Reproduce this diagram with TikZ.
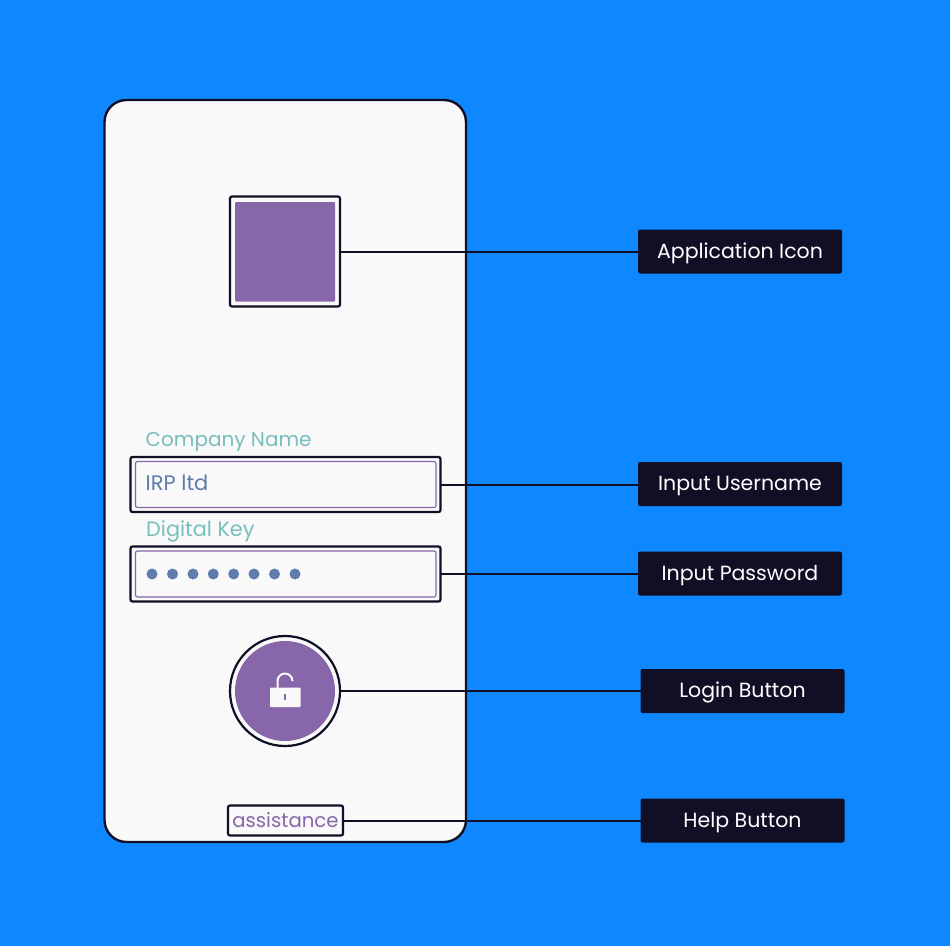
\documentclass[tikz,border=0pt]{standalone}
\usepackage{fontspec}
\setmainfont{Poppins}
\definecolor{bgblue}{HTML}{0F88FF}
\definecolor{ink}{HTML}{110F26}
\definecolor{paper}{HTML}{F9F9F9}
\definecolor{plum}{HTML}{8767A9}
\definecolor{teal2}{HTML}{77BFBD}
\definecolor{steel}{HTML}{5F7CAB}
\tikzset{
  x=1pt,y=-1pt,
  outline/.style={draw=ink,line width=2.2pt,rounded corners=2pt,fill=paper,inner sep=0pt,outer sep=0pt},
  inputbox/.style={draw=plum,line width=1.2pt,rounded corners=2pt,fill=paper},
  tag/.style={fill=ink,rounded corners=2pt,text=white,minimum width=204pt,minimum height=44pt,inner sep=0pt,outer sep=0pt,font=\fontsize{20.5}{22}\selectfont,text height=14pt,text depth=4pt},
  link/.style={draw=ink,line width=2pt},
  fieldlabel/.style={anchor=base west,inner sep=0pt,text=teal2,font=\fontsize{20}{22}\selectfont},
  dot/.style={circle,fill=steel,minimum size=11pt,inner sep=0pt},
}
\begin{document}
\begin{tikzpicture}
\useasboundingbox (0,0) rectangle (950,950);
\fill[bgblue] (0,0) rectangle (950,946);
\fill[white] (0,946) rectangle (950,950);
\draw[draw=ink,line width=2.4pt,fill=paper,rounded corners=22pt] (104.5,100) rectangle (466,842);

% tags
\node[tag] (t1) at (740,251.5) {\raisebox{-1.5pt}{Application Icon}};
\node[tag] (t2) at (740,484) {\raisebox{-1.5pt}{Input Username}};
\node[tag] (t3) at (740,573.5) {\raisebox{-1.5pt}{Input Password}};
\node[tag] (t4) at (742.5,691) {\raisebox{-1.5pt}{Login Button}};
\node[tag] (t5) at (742.5,820.5) {\raisebox{-1.5pt}{Help Button}};

% application icon
\node[outline,minimum size=110pt] (icon) at (285,251.5) {};
\fill[plum,rounded corners=1pt] (235,202) rectangle (335,301.5);

% fields
\node[outline,minimum width=310pt,minimum height=55pt] (user) at (285.5,484.5) {};
\draw[inputbox] (135.5,461.5) rectangle (436,507.5);
\node[outline,minimum width=310pt,minimum height=55pt] (pass) at (285.5,574) {};
\draw[inputbox] (135.5,551) rectangle (436,597);
\node[fieldlabel] (lc) at (145.5,446) {Company Name};
\node[fieldlabel] (ld) at (146,536) {\fontsize{20.8}{22}\selectfont Digital Key};
\node[anchor=base west,inner sep=0pt,text=steel,font=\fontsize{21}{22}\selectfont] (val) at (145.5,490.5) {IRP ltd};
\foreach \i/\px in {1/152,2/172.5,3/193,4/213.3,5/233.7,6/254,7/274.5,8/295}
  \node[dot] (d\i) at (\px,574) {};

% login button
\node[circle,draw=ink,line width=2.2pt,fill=paper,minimum size=110pt,inner sep=0pt,outer sep=0pt] (login) at (285,691) {};
\fill[plum] (285,691) circle (50pt);
\fill[paper,rounded corners=1pt] (270,687.5) rectangle (300.5,707);
\draw[paper,line width=2pt] (277.5,688) -- (277.5,681) arc[start angle=180,end angle=0,radius=7.5pt] -- (292.5,680.5);
\draw[plum,line width=1.8pt] (285.3,693.5) -- (285.3,700);

% help button
\node[outline,minimum width=115pt,minimum height=30pt,text=plum,font=\fontsize{19.7}{22}\selectfont] (help) at (285.5,820.5) {\raisebox{1.5pt}{assistance}};

% connectors
\draw[link] (icon.east) -- (t1.west);
\draw[link] (user.east) -- (user.east -| t2.west);
\draw[link] (pass.east) -- (pass.east -| t3.west);
\draw[link] (login.east) -- (t4.west);
\draw[link] (help.east) -- (help.east -| t5.west);
\end{tikzpicture}
\end{document}
